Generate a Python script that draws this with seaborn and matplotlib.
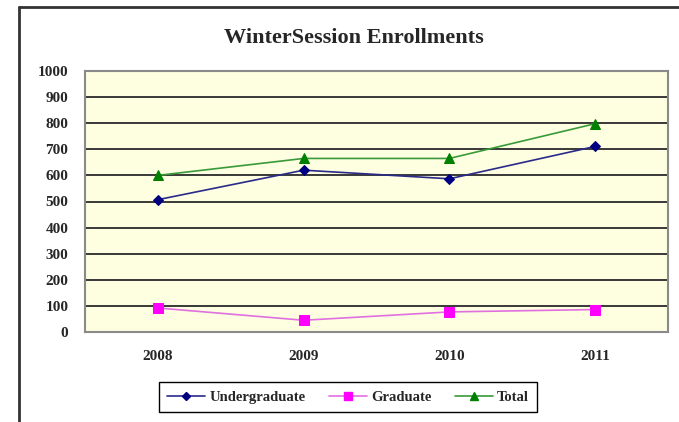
import numpy as np
import pandas as pd
import matplotlib
matplotlib.use('Agg')
import matplotlib.pyplot as plt
import seaborn as sns
from matplotlib.lines import Line2D

# data
years = ['2008', '2009', '2010', '2011']
undergrad = [507, 620, 587, 711]
graduate = [92, 45, 77, 86]
total = [600, 665, 665, 798]

series = {'Undergraduate': undergrad, 'Graduate': graduate, 'Total': total}
rows = []
for name, vals in series.items():
    for i, v in enumerate(vals):
        rows.append({'pos': i, 'year': years[i], 'series': name, 'value': v})
df = pd.DataFrame(rows)

sns.set_style('white')
plt.rcParams['font.family'] = ['Liberation Serif', 'DejaVu Serif']

styles = {
    'Undergraduate': dict(line='#2a2a8a', face='#000080', marker='D', ms=5),
    'Graduate': dict(line='#e070e0', face='#ff00ff', marker='s', ms=6.5),
    'Total': dict(line='#3a9a3a', face='#008000', marker='^', ms=6.5),
}

fig = plt.figure(figsize=(6.79, 4.22), dpi=100)
ax = fig.add_axes([85/679, 1-332/422, (668-85)/679, (332-71)/422])
ax.set_facecolor('#fefee0')

for name in series:
    st = styles[name]
    sub = df[df['series'] == name]
    sns.lineplot(data=sub, x='pos', y='value', ax=ax, color=st['line'], lw=1.2,
                 marker=st['marker'], markersize=st['ms'], markerfacecolor=st['face'],
                 markeredgecolor=st['face'], label=name, zorder=3)

ax.set_xlim(-0.5, 3.5)
ax.set_ylim(0, 1000)
ax.set_yticks(np.arange(0, 1001, 100))
ax.set_xticks(range(len(years)))
ax.set_xticklabels(years)
ax.set_xlabel('')
ax.set_ylabel('')
ax.grid(axis='y', color='#383838', lw=1.4)
ax.set_axisbelow(True)
for sp in ax.spines.values():
    sp.set_color('#8a8a8a')
    sp.set_linewidth(1.5)
ax.tick_params(axis='both', length=0, labelsize=11)
ax.tick_params(axis='y', pad=12)
ax.tick_params(axis='x', pad=13)
for lbl in ax.get_xticklabels() + ax.get_yticklabels():
    lbl.set_fontweight('bold')

fig.text(354/679, 1-38/422, 'WinterSession Enrollments', ha='center', va='center',
         fontsize=16, fontweight='bold')

handles = [Line2D([], [], color=styles[n]['line'], lw=1.2, marker=styles[n]['marker'],
                  markersize=styles[n]['ms'] - 1, markerfacecolor=styles[n]['face'],
                  markeredgecolor=styles[n]['face']) for n in series]
leg = ax.legend(handles, list(series.keys()), loc='center', ncol=3,
                bbox_to_anchor=(348/679, 1-397/422), bbox_transform=fig.transFigure,
                frameon=True, fancybox=False, edgecolor='black', framealpha=1,
                prop={'weight': 'bold', 'size': 10.5}, handlelength=2.6,
                columnspacing=1.6, handletextpad=0.3, borderpad=0.55)
leg.get_frame().set_linewidth(1.0)

# outer chart frame (left and top edges visible)
fig.add_artist(Line2D([19/679, 19/679], [0, 1-7/422], color='#333333', lw=2,
                      transform=fig.transFigure))
fig.add_artist(Line2D([19/679, 1], [1-7/422, 1-7/422], color='#333333', lw=2,
                      transform=fig.transFigure))

fig.savefig('out.png', dpi=100)
